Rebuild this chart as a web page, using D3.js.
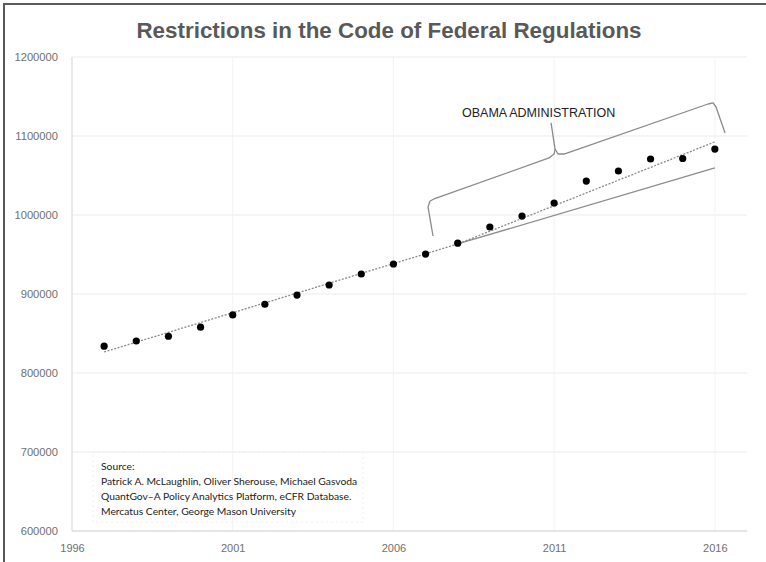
<!DOCTYPE html>
<html>
<head>
<meta charset="utf-8">
<script src="https://cdn.jsdelivr.net/npm/d3@7"></script>
<style>
  html, body { margin: 0; padding: 0; background: #fff; }
  svg { display: block; }
</style>
</head>
<body>
<div id="chart"></div>
<script>
// ---- Data ----
const years = [1997, 1998, 1999, 2000, 2001, 2002, 2003, 2004, 2005, 2006,
               2007, 2008, 2009, 2010, 2011, 2012, 2013, 2014, 2015, 2016];
const restrictions = [834000, 840500, 846500, 858000, 873500, 887000, 898700, 911400, 925300, 938000,
                      950600, 964300, 984800, 998700, 1015200, 1043000, 1055700, 1070900, 1071500, 1083500];
const trendYears = [1997, 2008, 2016];
const trendValues = [826600, 963300, 1092600];
const projectionYears = [2008, 2016];
const projectionValues = [963300, 1059800];
const yTicks = [600000, 700000, 800000, 900000, 1000000, 1100000, 1200000];
const xTicks = [1996, 2001, 2006, 2011, 2016];
// brace annotation outline, in (year, value)
const braceYears  = [2007.232, 2007.077, 2007.139, 2007.263, 2010.841, 2010.997, 2011.028, 2010.904];
const braceValues = [973400, 1010100, 1017700, 1020300, 1072200, 1077200, 1083500, 1116500];
const brace2Years  = [2011.028, 2011.121, 2011.308, 2015.789, 2015.944, 2016.037, 2016.317];
const brace2Values = [1083500, 1077200, 1077200, 1140500, 1141800, 1136700, 1103800];
const title = "Restrictions in the Code of Federal Regulations";
const annotation = "OBAMA ADMINISTRATION";
const sourceLines = [
  "Source:",
  "Patrick A. McLaughlin, Oliver Sherouse, Michael Gasvoda",
  "QuantGov\u2013A Policy Analytics Platform, eCFR Database.",
  "Mercatus Center, George Mason University"
];

// ---- Layout ----
const W = 766, H = 562;
const svg = d3.select("#chart").append("svg").attr("width", W).attr("height", H);

// outer frame (top + left)
svg.append("path").attr("d", `M4,562 L4,4 L766,4`).attr("fill", "none")
  .attr("stroke", "#5a5a5a").attr("stroke-width", 2);

const x = d3.scaleLinear().domain([1996, 2017]).range([72, 747]);
const y = d3.scaleLinear().domain([600000, 1200000]).range([531, 57]);

// title
svg.append("text").attr("x", 389).attr("y", 38).attr("text-anchor", "middle")
  .attr("font-family", "Liberation Sans, Arial, sans-serif").attr("font-weight", "bold")
  .attr("font-size", 22.4).attr("fill", "#595959").text(title);

// horizontal gridlines
svg.append("g").selectAll("line").data(yTicks.slice(1)).join("line")
  .attr("x1", x(1996)).attr("x2", x(2017))
  .attr("y1", d => y(d)).attr("y2", d => y(d))
  .attr("stroke", "#ebebeb").attr("stroke-width", 1.2);

// vertical faint gridlines
svg.append("g").selectAll("line").data(xTicks.slice(1)).join("line")
  .attr("x1", d => x(d)).attr("x2", d => x(d))
  .attr("y1", y(1200000)).attr("y2", y(600000))
  .attr("stroke", "#f3f3f3").attr("stroke-width", 1);

// axes lines
svg.append("line").attr("x1", x(1996)).attr("x2", x(1996)).attr("y1", y(1200000)).attr("y2", y(600000))
  .attr("stroke", "#e2e2e2").attr("stroke-width", 1.5);
svg.append("line").attr("x1", x(1996)).attr("x2", x(2017)).attr("y1", y(600000)).attr("y2", y(600000))
  .attr("stroke", "#dcdcdc").attr("stroke-width", 1.5);

// axis labels via d3 axis
const yAxis = svg.append("g").attr("transform", `translate(${x(1996) - 11},0)`)
  .call(d3.axisLeft(y).tickValues(yTicks).tickSize(0).tickFormat(d3.format("d")));
yAxis.select(".domain").remove();
yAxis.selectAll("text").attr("font-family", "Liberation Sans, Arial, sans-serif")
  .attr("font-size", 11.2).attr("fill", "#707070").attr("dx", 0);

const xAxis = svg.append("g").attr("transform", `translate(0,${y(600000) + 10})`)
  .call(d3.axisBottom(x).tickValues(xTicks).tickSize(0).tickFormat(d3.format("d")));
xAxis.select(".domain").remove();
xAxis.selectAll("text").attr("font-family", "Liberation Sans, Arial, sans-serif")
  .attr("font-size", 11).attr("fill", "#707070");

// source box (faint dotted)
svg.append("rect").attr("x", 93).attr("y", 452).attr("width", 270).attr("height", 70)
  .attr("fill", "none").attr("stroke", "#eeeeee").attr("stroke-dasharray", "2,3");
const src = svg.append("text").attr("font-family", "Lato, 'Open Sans', sans-serif")
  .attr("font-size", 10.3).attr("fill", "#222");
sourceLines.forEach((s, i) => {
  src.append("tspan").attr("x", 101).attr("y", 470 + i * 15).text(s);
});

// trend lines
const line = d3.line().x(d => x(d[0])).y(d => y(d[1]));
svg.append("path").datum(projectionYears.map((d, i) => [d, projectionValues[i]]))
  .attr("d", line).attr("fill", "none").attr("stroke", "#8c8c8c").attr("stroke-width", 1.3);
svg.append("path").datum(trendYears.map((d, i) => [d, trendValues[i]]))
  .attr("d", line).attr("fill", "none").attr("stroke", "#8a8a8a").attr("stroke-width", 1.3)
  .attr("stroke-dasharray", "2,1.5");

// points
svg.append("g").selectAll("circle").data(years).join("circle")
  .attr("cx", d => x(d)).attr("cy", (d, i) => y(restrictions[i])).attr("r", 3.6)
  .attr("fill", "#000");

// brace annotation
const braceLine = d3.line().x(d => x(d[0])).y(d => y(d[1])).curve(d3.curveLinear);
svg.append("path").datum(braceYears.map((d, i) => [d, braceValues[i]]))
  .attr("d", braceLine).attr("fill", "none").attr("stroke", "#8a8a8a").attr("stroke-width", 1.3)
  .attr("stroke-linejoin", "round");
svg.append("path").datum(brace2Years.map((d, i) => [d, brace2Values[i]]))
  .attr("d", braceLine).attr("fill", "none").attr("stroke", "#8a8a8a").attr("stroke-width", 1.3)
  .attr("stroke-linejoin", "round");

svg.append("text").attr("x", 462).attr("y", 117)
  .attr("font-family", "Liberation Sans, Arial, sans-serif").attr("font-size", 12.5)
  .attr("fill", "#222").text(annotation);
</script>
</body>
</html>
